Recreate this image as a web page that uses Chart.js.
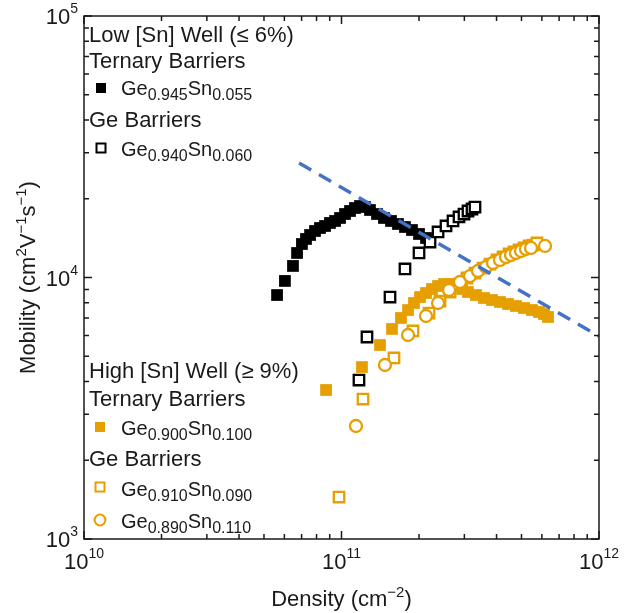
<!DOCTYPE html>
<html>
<head>
<meta charset="utf-8">
<script src="https://cdn.jsdelivr.net/npm/chart.js@4.4.0/dist/chart.umd.min.js"></script>
<style>
  html, body { margin: 0; padding: 0; background: #fff; }
</style>
</head>
<body>
<canvas id="chart" width="630" height="613"></canvas>
<script>
// Low [Sn] well, ternary barriers: Ge0.945Sn0.055 (filled black squares)
const lowTernaryDensity = [5.62e10, 6.03e10, 6.48e10, 6.72e10, 7.02e10, 7.28e10, 7.55e10, 7.89e10, 8.25e10, 8.63e10, 9.02e10, 9.44e10, 9.87e10, 1.032e11, 1.079e11, 1.128e11, 1.180e11, 1.234e11, 1.290e11, 1.374e11, 1.462e11, 1.557e11, 1.657e11, 1.764e11, 1.878e11, 2.000e11, 2.129e11];
const lowTernaryMobility = [8570, 9700, 11070, 12410, 13430, 14040, 14540, 15060, 15460, 15740, 16160, 16450, 16890, 17490, 17960, 18440, 18770, 18600, 18120, 17490, 16890, 16450, 16020, 15600, 15190, 14670, 14160];

// Low [Sn] well, Ge barriers: Ge0.940Sn0.060 (open black squares)
const lowGeDensity = [1.169e11, 1.256e11, 1.543e11, 1.764e11, 2.000e11, 2.207e11, 2.371e11, 2.546e11, 2.710e11, 2.860e11, 2.990e11, 3.099e11, 3.212e11, 3.299e11];
const lowGeMobility = [4055, 5922, 8420, 10780, 12410, 13670, 14930, 15740, 16450, 17040, 17490, 17960, 18280, 18600];

// High [Sn] well, ternary barriers: Ge0.900Sn0.100 (filled orange squares)
const highTernaryDensity = [8.71e10, 1.201e11, 1.411e11, 1.571e11, 1.702e11, 1.813e11, 1.912e11, 2.018e11, 2.129e11, 2.246e11, 2.371e11, 2.501e11, 2.639e11, 2.784e11, 2.938e11, 3.099e11, 3.329e11, 3.576e11, 3.841e11, 4.125e11, 4.432e11, 4.760e11, 5.113e11, 5.492e11, 5.848e11, 6.115e11, 6.338e11];
const highTernaryMobility = [3714, 4546, 5519, 6356, 7001, 7510, 7988, 8420, 8724, 9036, 9280, 9443, 9443, 9280, 9036, 8800, 8570, 8348, 8202, 8059, 7919, 7780, 7645, 7510, 7380, 7251, 7062];

// High [Sn] well, Ge barriers: Ge0.910Sn0.090 (open orange squares)
const highGeADensity = [9.78e10, 1.212e11, 1.599e11, 1.895e11, 2.187e11, 2.413e11, 2.639e11, 2.860e11, 3.072e11, 3.299e11, 3.544e11, 3.773e11, 4.017e11, 4.239e11, 4.472e11, 4.677e11, 4.891e11, 5.113e11, 5.348e11, 5.541e11, 5.744e11];
const highGeAMobility = [1447, 3430, 4923, 6244, 7315, 8130, 8800, 9443, 9956, 10400, 10870, 11260, 11670, 11980, 12300, 12520, 12740, 12970, 13200, 13310, 13550];

// High [Sn] well, Ge barriers: Ge0.890Sn0.110 (open orange circles)
const highGeBDensity = [1.138e11, 1.475e11, 1.813e11, 2.129e11, 2.371e11, 2.615e11, 2.886e11, 3.155e11, 3.389e11, 3.640e11, 3.876e11, 4.125e11, 4.354e11, 4.553e11, 4.760e11, 4.978e11, 5.206e11, 5.443e11, 6.170e11];
const highGeBMobility = [2705, 4628, 6028, 7125, 7988, 8958, 9612, 10130, 10590, 10970, 11360, 11670, 11980, 12190, 12410, 12630, 12850, 12970, 13200];

// dashed trend line
const fitDensity = [6.84e10, 1e12];
const fitMobility = [27400, 5960];

// axes
const xDecades = [1e10, 1e11, 1e12];
const xTickExp = ['10', '11', '12'];
const yDecades = [1e3, 1e4, 1e5];
const yTickExp = ['3', '4', '5'];

const ORANGE = '#E69F00';
const BLUE = '#4472C4';
const INK = '#1a1a1a';
const FONT = '"Liberation Sans", Arial, sans-serif';
const MINUS = '\u2212';

const pts = (xs, ys) => xs.map((x, i) => ({ x, y: ys[i] }));

// draws a run of text pieces, some raised or lowered
function richText(ctx, parts, x, y, align) {
  const widths = parts.map(p => {
    ctx.font = p.size + 'px ' + FONT;
    return ctx.measureText(p.t).width;
  });
  const total = widths.reduce((a, b) => a + b, 0);
  let cx = align === 'center' ? x - total / 2 : align === 'right' ? x - total : x;
  ctx.textAlign = 'left';
  ctx.textBaseline = 'alphabetic';
  parts.forEach((p, i) => {
    ctx.font = p.size + 'px ' + FONT;
    ctx.fillText(p.t, cx, y + (p.dy || 0));
    cx += widths[i];
  });
}

const formula = (a, b) => [
  { t: 'Ge', size: 20 }, { t: a, size: 16, dy: 5 },
  { t: 'Sn', size: 20 }, { t: b, size: 16, dy: 5 }
];
const head = t => [{ t, size: 22 }];

function marker(ctx, kind, color, x, y) {
  ctx.save();
  ctx.lineWidth = 2;
  ctx.strokeStyle = color;
  ctx.fillStyle = color;
  if (kind === 'filled') {
    ctx.fillRect(x - 5, y - 5, 10, 10);
  } else if (kind === 'open') {
    ctx.fillStyle = '#fff';
    ctx.fillRect(x - 4.5, y - 4.5, 9, 9);
    ctx.strokeRect(x - 4.5, y - 4.5, 9, 9);
  } else {
    ctx.fillStyle = '#fff';
    ctx.beginPath();
    ctx.arc(x, y, 5.4, 0, Math.PI * 2);
    ctx.fill();
    ctx.stroke();
  }
  ctx.restore();
}

const frame = {
  id: 'frame',
  afterDraw(chart) {
    const { ctx, chartArea: a, scales: { x, y } } = chart;
    ctx.save();
    ctx.strokeStyle = INK;
    ctx.lineWidth = 1.5;
    ctx.strokeRect(a.left, a.top, a.right - a.left, a.bottom - a.top);

    // inward ticks on all four sides
    ctx.beginPath();
    const minorSteps = [1, 2, 3, 4, 5, 6, 7, 8, 9];
    xDecades.forEach((d, k) => {
      minorSteps.forEach(m => {
        if (k === xDecades.length - 1 && m > 1) return;
        const px = x.getPixelForValue(d * m);
        const len = m === 1 ? 8 : 5;
        ctx.moveTo(px, a.bottom); ctx.lineTo(px, a.bottom - len);
        ctx.moveTo(px, a.top); ctx.lineTo(px, a.top + len);
      });
    });
    yDecades.forEach((d, k) => {
      minorSteps.forEach(m => {
        if (k === yDecades.length - 1 && m > 1) return;
        const py = y.getPixelForValue(d * m);
        const len = m === 1 ? 8 : 5;
        ctx.moveTo(a.left, py); ctx.lineTo(a.left + len, py);
        ctx.moveTo(a.right, py); ctx.lineTo(a.right - len, py);
      });
    });
    ctx.stroke();

    // tick labels
    ctx.fillStyle = INK;
    xDecades.forEach((d, i) => {
      richText(ctx, [{ t: '10', size: 22 }, { t: xTickExp[i], size: 14, dy: -11 }],
        x.getPixelForValue(d), a.bottom + 30, 'center');
    });
    yDecades.forEach((d, i) => {
      richText(ctx, [{ t: '10', size: 22 }, { t: yTickExp[i], size: 14, dy: -11 }],
        a.left - 6, y.getPixelForValue(d) + 8, 'right');
    });

    // axis titles
    richText(ctx, [{ t: 'Density (cm', size: 22 }, { t: MINUS + '2', size: 15, dy: -9 }, { t: ')', size: 22 }],
      (a.left + a.right) / 2, 606, 'center');
    ctx.save();
    ctx.translate(35, (a.top + a.bottom) / 2);
    ctx.rotate(-Math.PI / 2);
    richText(ctx, [
      { t: 'Mobility (cm', size: 22 }, { t: '2', size: 15, dy: -9 },
      { t: 'V', size: 22 }, { t: MINUS + '1', size: 15, dy: -9 },
      { t: 's', size: 22 }, { t: MINUS + '1', size: 15, dy: -9 }, { t: ')', size: 22 }
    ], 0, 0, 'center');
    ctx.restore();

    // legend blocks
    const lx = a.left + 5;
    richText(ctx, head('Low [Sn] Well (\u2264 6%)'), lx, 42);
    richText(ctx, head('Ternary Barriers'), lx, 68);
    marker(ctx, 'filled', '#000', 101, 88);
    richText(ctx, formula('0.945', '0.055'), 121, 95);
    richText(ctx, head('Ge Barriers'), lx, 127);
    marker(ctx, 'open', '#000', 101, 148);
    richText(ctx, formula('0.940', '0.060'), 121, 156);

    richText(ctx, head('High [Sn] Well (\u2265 9%)'), lx, 378);
    richText(ctx, head('Ternary Barriers'), lx, 406);
    marker(ctx, 'filled', ORANGE, 100, 427);
    richText(ctx, formula('0.900', '0.100'), 121, 435);
    richText(ctx, head('Ge Barriers'), lx, 466);
    marker(ctx, 'open', ORANGE, 100, 487);
    richText(ctx, formula('0.910', '0.090'), 121, 496);
    marker(ctx, 'circle', ORANGE, 100, 520);
    richText(ctx, formula('0.890', '0.110'), 121, 528);
    ctx.restore();
  }
};

new Chart(document.getElementById('chart'), {
  type: 'scatter',
  data: {
    datasets: [
      {
        label: 'fit',
        type: 'line',
        data: pts(fitDensity, fitMobility),
        borderColor: BLUE,
        borderWidth: 3.5,
        borderDash: [14, 9],
        pointRadius: 0,
        fill: false,
        order: 0
      },
      {
        label: 'Ge0.890Sn0.110',
        data: pts(highGeBDensity, highGeBMobility),
        pointStyle: 'circle',
        pointRadius: 6,
        borderWidth: 2.3,
        borderColor: ORANGE,
        backgroundColor: '#fff',
        order: 1
      },
      {
        label: 'Ge0.910Sn0.090',
        data: pts(highGeADensity, highGeAMobility),
        pointStyle: 'rect',
        pointRadius: 7.4,
        borderWidth: 2.3,
        borderColor: ORANGE,
        backgroundColor: '#fff',
        order: 2
      },
      {
        label: 'Ge0.900Sn0.100',
        data: pts(highTernaryDensity, highTernaryMobility),
        pointStyle: 'rect',
        pointRadius: 8.3,
        borderWidth: 0,
        borderColor: ORANGE,
        backgroundColor: ORANGE,
        order: 3
      },
      {
        label: 'Ge0.940Sn0.060',
        data: pts(lowGeDensity, lowGeMobility),
        pointStyle: 'rect',
        pointRadius: 7.4,
        borderWidth: 2.3,
        borderColor: '#000',
        backgroundColor: '#fff',
        order: 4
      },
      {
        label: 'Ge0.945Sn0.055',
        data: pts(lowTernaryDensity, lowTernaryMobility),
        pointStyle: 'rect',
        pointRadius: 8.3,
        borderWidth: 0,
        borderColor: '#000',
        backgroundColor: '#000',
        order: 5
      }
    ]
  },
  options: {
    responsive: false,
    animation: false,
    devicePixelRatio: 1,
    layout: { padding: { left: 84, right: 31, top: 16, bottom: 74 } },
    plugins: { legend: { display: false }, tooltip: { enabled: false } },
    scales: {
      x: {
        type: 'logarithmic',
        min: 1e10,
        max: 1e12,
        grid: { display: false },
        border: { display: false },
        ticks: { display: false },
        afterFit(s) { s.height = 0; }
      },
      y: {
        type: 'logarithmic',
        min: 1e3,
        max: 1e5,
        grid: { display: false },
        border: { display: false },
        ticks: { display: false },
        afterFit(s) { s.width = 0; }
      }
    }
  },
  plugins: [frame]
});
</script>
</body>
</html>
